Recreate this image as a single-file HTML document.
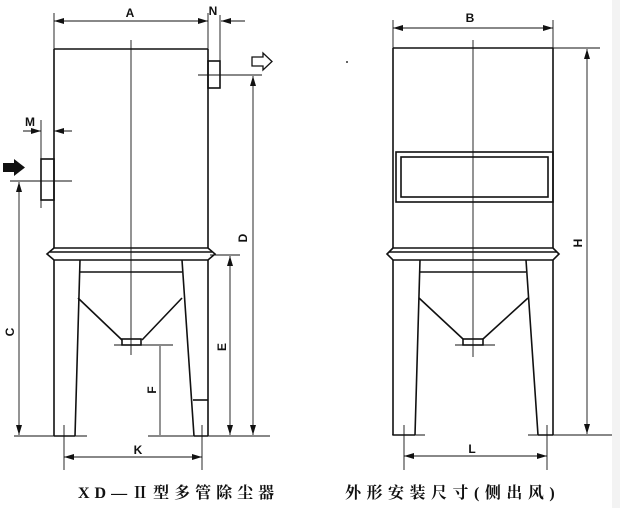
<!DOCTYPE html>
<html><head><meta charset="utf-8"><style>
body{margin:0;background:#fff}
svg{display:block}
text{font-family:"Liberation Sans",sans-serif;font-weight:bold;font-size:12px;fill:#111}
.cap{font-family:"Liberation Serif","Noto Serif CJK SC",serif;font-size:16px;font-weight:bold}
</style></head><body>
<svg width="620" height="508" viewBox="0 0 620 508" xmlns="http://www.w3.org/2000/svg">
<defs>
<marker id="a" viewBox="0 0 10 6" refX="10" refY="3" markerWidth="10" markerHeight="6" orient="auto-start-reverse" markerUnits="userSpaceOnUse"><path d="M0,0L10,3L0,6z" fill="#111"/></marker>
</defs>
<rect x="612" y="0" width="8" height="508" fill="#f3f3f3"/>
<g stroke="#111" fill="none">
<g stroke-width="1.6">
<path d="M54,49H208M54,49V248M208,49V248"/>
<path d="M54,248L47,254L54,260H208L215,254L208,248Z"/>
<path d="M50,252H212"/>
<path d="M54,260V436M80,260L75,436M208,260V436M182,260L194,436M54,436H75M194,436H208"/>
<path d="M80,272H182M78,298L122,340M182,298L142,340"/>
<rect x="122" y="339" width="19" height="6"/>
<rect x="208" y="61" width="12" height="27"/>
<rect x="41" y="159" width="13" height="41"/>
<path d="M193,400H208"/>
</g>
<g stroke-width="0.9">
<path d="M131,40V355"/>
<path d="M54,13V49M208,13V61M220,15V61"/>
<path d="M54,21H208" marker-start="url(#a)" marker-end="url(#a)"/>
<path d="M245,21H221" marker-end="url(#a)"/>
<path d="M198,75H262M10,181H72"/>
<path d="M41,120V208"/>
<path d="M23,131H41" marker-end="url(#a)"/>
<path d="M72,131H54" marker-end="url(#a)"/>
<path d="M19,182V435" marker-start="url(#a)" marker-end="url(#a)"/>
<path d="M253,76V435" marker-start="url(#a)" marker-end="url(#a)"/>
<path d="M210,255H240"/>
<path d="M230,256V435" marker-start="url(#a)" marker-end="url(#a)"/>
<path d="M114,345H173"/>
<path d="M160,346V435"/>
<path d="M14,436H87M148,436H270"/>
<path d="M64,425V470M202,425V470"/>
<path d="M64,457H202" marker-start="url(#a)" marker-end="url(#a)"/>
</g>
<path d="M252,57H263V53L272,61.5L263,70V66H252Z" stroke-width="1.3" fill="#fff"/>
<path d="M3,163H14V159L25,167.5L14,176V172H3Z" fill="#111" stroke="none"/>
<g stroke-width="1.6">
<path d="M393,48H553M393,48V248M553,48V248"/>
<path d="M393,248L387,254L393,260H553L559,254L553,248Z"/>
<path d="M389,252H557"/>
<rect x="396" y="152" width="157" height="50"/>
<rect x="401" y="157" width="147" height="40"/>
<path d="M393,260V435M420,260L415,435M553,260V435M526,260L538,435M393,435H415M538,435H553"/>
<path d="M420,272H526M419,298L463,339M528,298L483,339"/>
<rect x="463" y="339" width="20" height="6"/>
</g>
<g stroke-width="0.9">
<path d="M473,40V357"/>
<path d="M393,20V48M553,20V48"/>
<path d="M393,28H553" marker-start="url(#a)" marker-end="url(#a)"/>
<path d="M553,48H600"/>
<path d="M587,49V434" marker-start="url(#a)" marker-end="url(#a)"/>
<path d="M455,345H495"/>
<path d="M392,435H425M528,435H612"/>
<path d="M404,425V470M547,425V470"/>
<path d="M404,456H547" marker-start="url(#a)" marker-end="url(#a)"/>
</g>
</g>
<circle cx="347" cy="62" r="1" fill="#333"/>
<text x="130" y="17" text-anchor="middle">A</text>
<text x="213" y="15" text-anchor="middle">N</text>
<text x="30" y="126" text-anchor="middle">M</text>
<text x="138" y="454" text-anchor="middle">K</text>
<text x="470" y="22" text-anchor="middle">B</text>
<text x="472" y="453" text-anchor="middle">L</text>
<text transform="translate(247,238) rotate(-90)" text-anchor="middle">D</text>
<text transform="translate(14,332) rotate(-90)" text-anchor="middle">C</text>
<text transform="translate(226,347) rotate(-90)" text-anchor="middle">E</text>
<text transform="translate(156,390) rotate(-90)" text-anchor="middle">F</text>
<text transform="translate(582,243) rotate(-90)" text-anchor="middle">H</text>
<text class="cap" x="78" y="498" letter-spacing="5">XD—Ⅱ型多管除尘器</text>
<text class="cap" x="345" y="498" letter-spacing="5.5">外形安装尺寸(侧出风)</text>
</svg>
</body></html>
